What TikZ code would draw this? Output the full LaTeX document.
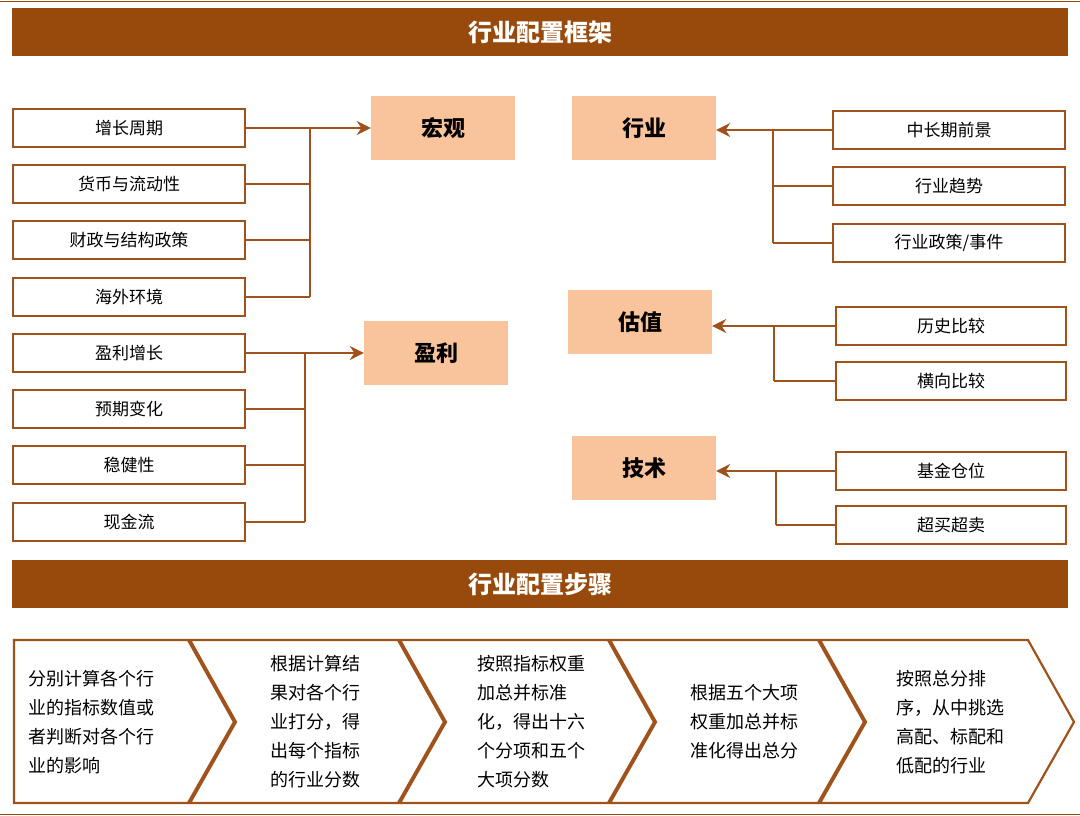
\documentclass[tikz,border=0pt]{standalone}
\usepackage{fontspec}
\setmainfont{Noto Sans CJK SC}
\usetikzlibrary{positioning,arrows.meta}
\definecolor{banner}{HTML}{974A0C}
\definecolor{edgeb}{HTML}{A0521C}
\definecolor{peach}{HTML}{F9C49B}
\tikzset{
  title/.style = {fill=banner,text=white,font=\fontsize{24}{26}\selectfont\bfseries,minimum width=1056pt,minimum height=48pt,inner sep=0pt},
  item/.style = {draw=edgeb,line width=2.6pt,fill=white,font=\fontsize{17}{20}\selectfont,minimum width=232pt,minimum height=38pt,inner sep=0pt},
  topic/.style = {fill=peach,font=\fontsize{22}{24}\selectfont\bfseries,minimum width=144pt,minimum height=64pt,inner sep=0pt},
  wire/.style = {edgeb,line width=2.6pt},
  arr/.style = {wire,-{Stealth[length=14pt,width=14pt]}},
  chev/.style = {draw=edgeb,line width=2.2pt,fill=white},
  steptxt/.style = {font=\fontsize{18}{29}\selectfont,align=left,anchor=west,inner sep=0pt}
}
\begin{document}
\begin{tikzpicture}[x=1pt,y=-1pt]
\useasboundingbox (0,0) rectangle (1080,816);
\draw[banner,line width=1pt] (0,2) -- (1080,2);
\draw[banner,line width=1pt] (0,814) -- (1080,814);

% banners
\node[title] (t1) at (540,32) {行业配置框架};
\node[title] (t2) at (540,584) {行业配置步骤};

% topics
\node[topic] (macro) at (443,128) {宏观};
\node[topic] (prof) at (436,353) {盈利};
\node[topic] (ind) at (644,128) {行业};
\node[topic] (val) at (640,322) {估值};
\node[topic] (tech) at (644,468) {技术};

% left items
\node[item] (m1) at (129,128) {增长周期};
\node[item] (m2) at (129,184) {货币与流动性};
\node[item] (m3) at (129,240) {财政与结构政策};
\node[item] (m4) at (129,297) {海外环境};
\node[item] (p1) at (129,353) {盈利增长};
\node[item] (p2) at (129,409) {预期变化};
\node[item] (p3) at (129,465) {稳健性};
\node[item] (p4) at (129,522) {现金流};

% right items
\node[item] (i1) at (949,130) {中长期前景};
\node[item] (i2) at (949,186) {行业趋势};
\node[item] (i3) at (949,243) {行业政策/事件};
\node[item,minimum width=230pt] (v1) at (951,326) {历史比较};
\node[item,minimum width=230pt] (v2) at (951,381) {横向比较};
\node[item,minimum width=230pt] (k1) at (951,471) {基金仓位};
\node[item,minimum width=230pt] (k2) at (951,525) {超买超卖};

% connectors
\coordinate (ms) at (310,0);
\coordinate (ps) at (305,0);
\coordinate (is) at (773,0);
\coordinate (vs) at (774,0);
\coordinate (ks) at (776,0);
\foreach \b in {m2,m3,m4} \draw[wire] (\b.east) -- (\b.east -| ms);
\draw[wire] (m1.east -| ms) -- (m4.east -| ms);
\draw[arr] (m1.east) -- (macro.west);
\foreach \b in {p2,p3,p4} \draw[wire] (\b.east) -- (\b.east -| ps);
\draw[wire] (p1.east -| ps) -- (p4.east -| ps);
\draw[arr] (p1.east) -- (prof.west);
\foreach \b in {i2,i3} \draw[wire] (\b.west) -- (\b.west -| is);
\draw[wire] (i1.west -| is) -- (i3.west -| is);
\draw[arr] (i1.west) -- (i1.west -| ind.east);
\draw[wire] (v2.west) -- (v2.west -| vs);
\draw[wire] (v1.west -| vs) -- (v2.west -| vs);
\draw[arr] (v1.west) -- (v1.west -| val.east);
\draw[wire] (k2.west) -- (k2.west -| ks);
\draw[wire] (k1.west -| ks) -- (k2.west -| ks);
\draw[arr] (k1.west) -- (k1.west -| tech.east);

% steps
\draw[chev] (14,640) -- (188,640) -- (234,722) -- (188,803) -- (14,803) -- cycle;
\foreach \x in {190,400,610,820}
  \draw[chev] (\x,640) -- (\x+208,640) -- (\x+254,722) -- (\x+208,803) -- (\x,803) -- (\x+46,722) -- cycle;
\node[steptxt] (s1) at (28,722) {分别计算各个行\\业的指标数值或\\者判断对各个行\\业的影响};
\node[steptxt] (s2) at (270,722) {根据计算结\\果对各个行\\业打分，得\\出每个指标\\的行业分数};
\node[steptxt] (s3) at (477,722) {按照指标权重\\加总并标准\\化，得出十六\\个分项和五个\\大项分数};
\node[steptxt] (s4) at (690,722) {根据五个大项\\权重加总并标\\准化得出总分};
\node[steptxt] (s5) at (896,722) {按照总分排\\序，从中挑选\\高配、标配和\\低配的行业};
\end{tikzpicture}
\end{document}
